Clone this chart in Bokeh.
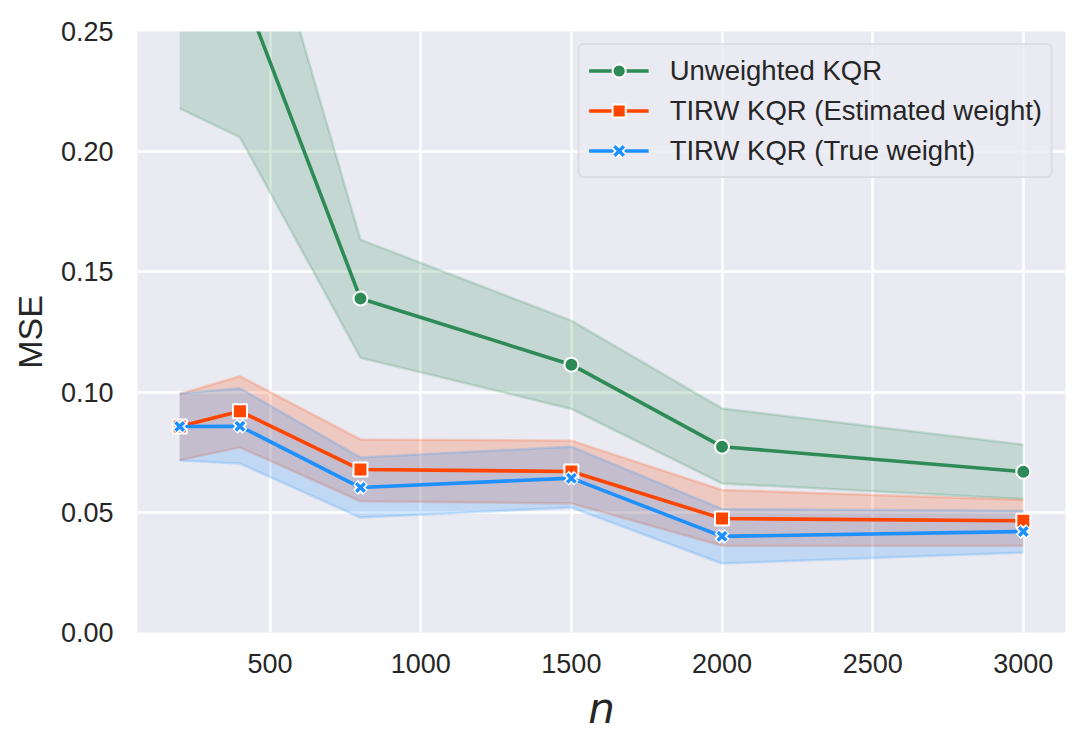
from bokeh.plotting import figure
from bokeh.models import Range1d, FixedTicker, NumeralTickFormatter, Legend, LegendItem, ColumnDataSource
from bokeh.embed import file_html
from bokeh.resources import INLINE

# ---- data ----
n = [200, 400, 800, 1500, 2000, 3000]

unw_mean = [0.300, 0.270, 0.1389, 0.1114, 0.0773, 0.0669]
unw_lo = [0.218, 0.206, 0.1143, 0.0930, 0.0620, 0.0555]
unw_hi = [0.380, 0.336, 0.1634, 0.1297, 0.0932, 0.0781]

est_mean = [0.0857, 0.0920, 0.0678, 0.0670, 0.0474, 0.0465]
est_lo = [0.0717, 0.0770, 0.0546, 0.0537, 0.0361, 0.0361]
est_hi = [0.0992, 0.1066, 0.0803, 0.0798, 0.0593, 0.0551]

true_mean = [0.0857, 0.0858, 0.0603, 0.0642, 0.0400, 0.0420]
true_lo = [0.0715, 0.0703, 0.0478, 0.0520, 0.0287, 0.0333]
true_hi = [0.0994, 0.1016, 0.0728, 0.0773, 0.0514, 0.0506]

labels = ["Unweighted KQR", "TIRW KQR (Estimated weight)", "TIRW KQR (True weight)"]
colors = ["#2e8b57", "#ff4500", "#1e90ff"]

x_ticks = [500, 1000, 1500, 2000, 2500, 3000]
y_ticks = [0.0, 0.05, 0.10, 0.15, 0.20, 0.25]

FONT = "Liberation Sans"
TXT = "#262626"

p = figure(frame_width=928, frame_height=601, output_backend="svg", toolbar_location=None,
           x_range=Range1d(60, 3140), y_range=Range1d(0, 0.25),
           min_border_left=137, min_border_right=4, min_border_top=31, min_border_bottom=90)

p.background_fill_color = "#eaeaf2"
p.border_fill_color = "white"
p.outline_line_color = None

for ax in (p.xaxis[0], p.yaxis[0]):
    ax.axis_line_color = None
    ax.major_tick_line_color = None
    ax.minor_tick_line_color = None
    ax.major_tick_out = 0
    ax.major_tick_in = 0
    ax.minor_tick_out = 0
    ax.major_label_text_font = FONT
    ax.major_label_text_font_size = "27px"
    ax.major_label_text_color = TXT
    ax.axis_label_text_color = TXT

p.xaxis.ticker = FixedTicker(ticks=x_ticks)
p.yaxis.ticker = FixedTicker(ticks=y_ticks)
p.yaxis.formatter = NumeralTickFormatter(format="0.00")
p.xaxis.major_label_standoff = 21
p.yaxis.major_label_standoff = 24

p.xaxis.axis_label = "n"
p.xaxis.axis_label_text_font = "DejaVu Sans"
p.xaxis.axis_label_text_font_style = "italic"
p.xaxis.axis_label_text_font_size = "42px"
p.xaxis.axis_label_standoff = 8

p.yaxis.axis_label = "MSE"
p.yaxis.axis_label_text_font = FONT
p.yaxis.axis_label_text_font_style = "normal"
p.yaxis.axis_label_text_font_size = "34px"
p.yaxis.axis_label_standoff = 9

p.xgrid.grid_line_color = "white"
p.ygrid.grid_line_color = "white"
p.xgrid.grid_line_width = 2.5
p.ygrid.grid_line_width = 2.5

series = [(unw_mean, unw_lo, unw_hi), (est_mean, est_lo, est_hi), (true_mean, true_lo, true_hi)]

# bands first (below all lines)
for (m, lo, hi), c in zip(series, colors):
    src = ColumnDataSource(dict(x=n, lo=lo, hi=hi))
    p.varea(x="x", y1="lo", y2="hi", source=src, fill_color=c, fill_alpha=0.2)
    p.line(x="x", y="lo", source=src, line_color=c, line_alpha=0.2, line_width=2.5)
    p.line(x="x", y="hi", source=src, line_color=c, line_alpha=0.2, line_width=2.5)

items = []
for i, ((m, lo, hi), c) in enumerate(zip(series, colors)):
    src = ColumnDataSource(dict(x=n, y=m))
    r_line = p.line(x="x", y="y", source=src, line_color=c, line_width=3.6)
    if i == 0:
        r_m = [p.scatter(x="x", y="y", source=src, marker="circle", size=14,
                         fill_color=c, line_color="white", line_width=2)]
    elif i == 1:
        r_m = [p.scatter(x="x", y="y", source=src, marker="square", size=14,
                         fill_color=c, line_color="white", line_width=2)]
    else:
        r_w = p.scatter(x="x", y="y", source=src, marker="x", size=14,
                        line_color="white", line_width=7)
        r_b = p.scatter(x="x", y="y", source=src, marker="x", size=12,
                        line_color=c, line_width=3.5)
        r_m = [r_w, r_b]
    items.append(LegendItem(label=labels[i], renderers=[r_line] + r_m))

legend = Legend(items=items, location="top_right")
legend.margin = 12
legend.padding = 9
legend.spacing = 7
legend.glyph_width = 60
legend.glyph_height = 33
legend.label_height = 33
legend.label_standoff = 21
legend.label_text_font = FONT
legend.label_text_font_size = "27.5px"
legend.label_text_color = TXT
legend.background_fill_color = "#eaeaf2"
legend.background_fill_alpha = 0.8
legend.border_line_color = "#cfcfd6"
legend.border_line_width = 2
legend.border_radius = 6
p.add_layout(legend, "center")

open("out.html", "w").write(file_html(p, INLINE))
